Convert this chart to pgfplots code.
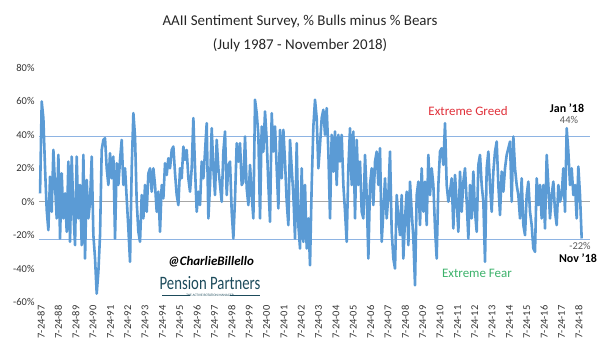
\documentclass[border=0pt]{standalone}
\usepackage{pgfplots}
\pgfplotsset{compat=1.18}
\usepackage{pgfplotstable}
\usepackage{graphicx}
\usepackage{fontspec}
\setmainfont{Carlito}
\definecolor{serie}{HTML}{5B9BD5}
\definecolor{band}{HTML}{8EB4E3}
\definecolor{zeroc}{HTML}{A6A6A6}
\definecolor{greed}{HTML}{E0303A}
\definecolor{fear}{HTML}{3DB26B}
\definecolor{pp}{HTML}{1D4B5B}
\pgfplotstableread{
v
5
60
50
20
-5
-17
15
-6
31
10
-10
28
-22
17
-10
5
-18
24
-24
27
-6
-26
27
-10
10
-26
28
-34
13
-10
0
27
-20
-34
-55
-42
-20
31
37
38
20
10
29
14
27
-22
23
10
25
37
10
20
2
-16
-36
20
53
39
0
-18
-24
4
-10
10
-6
17
20
6
20
10
-6
6
-18
10
2
23
16
26
20
31
33
17
4
-2
20
14
33
25
31
14
6
20
50
20
-6
6
-2
24
14
30
47
-10
10
44
20
4
37
20
10
0
30
42
4
22
24
-6
-22
2
35
24
35
10
12
39
8
-2
22
4
-10
61
53
40
-10
45
30
54
37
10
-12
53
30
45
20
-4
43
14
43
24
0
-14
37
20
4
-22
35
-14
-28
20
-24
10
-28
-10
-38
10
45
61
50
20
34
50
55
40
56
30
-10
40
18
42
10
40
24
40
10
-6
-24
20
44
10
42
-10
37
10
24
-6
-10
28
4
-34
10
20
-2
24
30
10
32
-24
-6
14
-10
4
30
-18
-34
-40
4
-10
-20
4
-34
-10
6
-26
12
-6
-22
-50
4
12
-14
20
-6
12
-14
28
4
20
10
-16
-34
10
30
32
22
47
10
0
6
14
-16
16
0
-18
18
-6
12
20
0
-22
10
-10
18
-6
-18
22
28
10
0
-36
20
30
10
-6
18
30
36
10
-8
18
6
20
28
32
36
0
39
20
10
4
-10
14
-14
-20
4
12
-6
-14
-28
-30
14
-2
10
-10
10
-16
28
10
-10
4
12
-6
-14
10
0
4
20
-6
44
30
10
20
4
10
-10
21
4
-22
}\aaii
\begin{document}
\begin{tikzpicture}[x=1bp,y=1bp]
\useasboundingbox (0,0) rectangle (600,359);
\node[font=\fontsize{15}{16}\selectfont, text=black!85] at (300,337) {AAII Sentiment Survey, \% Bulls minus \% Bears};
\node[font=\fontsize{15}{16}\selectfont, text=black!85] at (300,314) {(July 1987 - November 2018)};
\begin{axis}[
  at={(39bp,57bp)}, anchor=south west,
  width=551bp, height=234bp, scale only axis,
  xmin=-0.06, xmax=31.70, ymin=-60, ymax=80,
  axis line style={draw=none}, tick style={draw=none},
  ytick={-60,-40,-20,0,20,40,60,80},
  yticklabels={-60\%,-40\%,-20\%,0\%,20\%,40\%,60\%,80\%},
  xtick={0,...,31},
  xticklabels={7-24-87,7-24-88,7-24-89,7-24-90,7-24-91,7-24-92,7-24-93,7-24-94,7-24-95,7-24-96,7-24-97,7-24-98,7-24-99,7-24-00,7-24-01,7-24-02,7-24-03,7-24-04,7-24-05,7-24-06,7-24-07,7-24-08,7-24-09,7-24-10,7-24-11,7-24-12,7-24-13,7-24-14,7-24-15,7-24-16,7-24-17,7-24-18},
  yticklabel style={font=\fontsize{10.5}{12}\selectfont, text=black!80, anchor=east, xshift=-1bp},
  xticklabel style={font=\fontsize{10.5}{12}\selectfont, text=black!80, rotate=90, anchor=east, yshift=-1bp},
  clip=false,
]
\addplot[draw=zeroc, line width=0.8bp] coordinates {(-0.06,0) (31.70,0)};
\addplot[draw=band, line width=1.1bp] coordinates {(-0.06,39) (31.70,39)};
\addplot[draw=band, line width=1.1bp] coordinates {(-0.06,-22.5) (31.70,-22.5)};
\addplot[draw=serie, line width=2.6bp, line join=round] table[x expr=\coordindex*0.09606, y=v]{\aaii};
\end{axis}
\node[font=\fontsize{13}{14}\selectfont, text=greed] at (468,248) {Extreme Greed};
\node[font=\fontsize{13}{14}\selectfont, text=fear] at (477,86) {Extreme Fear};
\node[font=\bfseries\fontsize{12}{13}\selectfont] at (567,251) {Jan '18};
\node[font=\fontsize{10.5}{12}\selectfont, text=black!65] at (569,239) {44\%};
\node[font=\fontsize{10.5}{12}\selectfont, text=black!65] at (580,113) {-22\%};
\node[font=\bfseries\fontsize{12}{13}\selectfont] at (578,101) {Nov '18};
\node[font=\bfseries\itshape\fontsize{13}{14}\selectfont] at (211,97) {@CharlieBillello};
\node[font=\fontsize{19}{19}\selectfont, text=pp] at (210,76) {\scalebox{0.78}[1]{Pension Partners}};
\node[font=\fontsize{3.5}{4}\selectfont, text=pp] at (210,64) {THE ACTIVE ROTATION MANAGER};
\draw[pp, line width=0.4bp] (162,64) -- (190,64) (230,64) -- (260,64);
\end{tikzpicture}
\end{document}
